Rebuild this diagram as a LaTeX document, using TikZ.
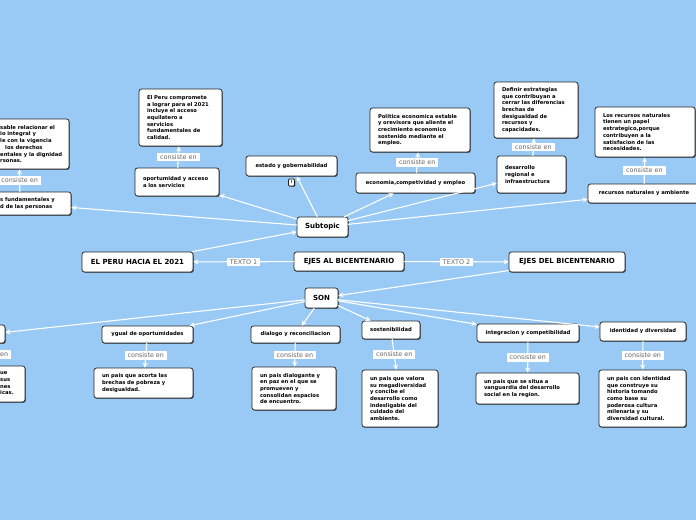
\documentclass[tikz,border=0pt]{standalone}
\usepackage{fontspec}
\setsansfont{DejaVu Sans}
\usetikzlibrary{arrows.meta,shadows}

\begin{document}
\begin{tikzpicture}[x=1pt,y=-1pt,line cap=round,line join=round,
  box/.style={rounded corners=2.5pt,fill=white,draw=black!85,line width=0.75pt,
    drop shadow={shadow xshift=0.8pt,shadow yshift=-0.9pt,opacity=0.55,fill=black}},
  mainbox/.style={box,font=\sffamily\bfseries\fontsize{7}{8}\selectfont,inner sep=0pt},
  topicbox/.style={box,font=\sffamily\bfseries\fontsize{5.25}{6.7}\selectfont,inner sep=0pt},
  detbox/.style={box,font=\sffamily\bfseries\fontsize{5.25}{6.7}\selectfont,align=left,
    inner xsep=8pt,inner ysep=2pt},
  frag/.style={font=\sffamily\bfseries\fontsize{5.25}{6.7}\selectfont,align=left,
    anchor=west,inner sep=0pt},
  notebox/.style={box,font=\sffamily\bfseries\fontsize{4}{4}\selectfont,inner sep=0.6pt,
    minimum width=6pt,minimum height=7pt,rounded corners=1pt},
  conn/.style={white,line width=1.1pt,-{Stealth[length=5pt,width=5pt]}},
  lbl/.style={fill=white,text=black!60,font=\sffamily\fontsize{6.4}{7}\selectfont,
    inner xsep=3pt,inner ysep=1.6pt}]
  \definecolor{sky}{RGB}{153,201,245}

  \useasboundingbox (0,0) rectangle (696,520);
  \fill[sky] (0,0) rectangle (696,520);
  \clip (0,0) rectangle (696,520);

  % ---- central row ----
  \node[mainbox,minimum width=51pt,minimum height=20pt] (sub) at (322.5,227) {Subtopic};
  \node[mainbox,minimum width=110pt,minimum height=19pt] (ejesal) at (349,261.5) {EJES AL BICENTENARIO};
  \node[mainbox,minimum width=111pt,minimum height=20pt] (peru) at (137.5,262) {EL PERU HACIA EL 2021};
  \node[mainbox,minimum width=116pt,minimum height=20pt] (ejesdel) at (567,262) {EJES DEL BICENTENARIO};
  \node[mainbox,minimum width=33pt,minimum height=20pt] (son) at (321.5,298) {SON};

  % ---- upper topics ----
  \node[box,minimum width=102pt,minimum height=23pt] (derechos) at (20,203.5) {};
  \node[frag] (derechost) at (0,203.5) {s fundamentales y\\d de las personas};
  \node[detbox,text width=68pt,minimum height=28pt] (oport) at (177,182)
    {oportumidad y acceso\\a los servicios};
  \node[topicbox,minimum width=91pt,minimum height=20pt] (estado) at (291.5,166) {estado y gobernabilidad};
  \node[notebox] (alerta) at (291.5,182.5) {!};
  \node[topicbox,minimum width=119pt,minimum height=20pt] (econ) at (415.5,183)
    {economia,competividad y empleo};
  \node[detbox,text width=53pt,minimum height=37pt] (desarr) at (531.5,174.5)
    {desarrollo\\regional e\\infraestructura};
  \node[topicbox,minimum width=112pt,minimum height=19pt] (recur) at (644,193.5)
    {recursos naturales y ambiente};

  % ---- upper details ----
  \node[box,minimum width=100pt,minimum height=50pt] (derechosd) at (19,144) {};
  \node[frag] (derechosdt) at (0,144) {sable relacionar el\\io integral y\\le con la vigencia\\
    \hspace*{5pt}los derechos\\entales y la dignidad\\rsonas.};
  \node[detbox,text width=67pt,minimum height=57pt] (elperu) at (180.5,117.5)
    {El Peru compromete\\a lograr para el 2021\\incluye el acceso\\equilatero a\\servicios\\fundamentales de\\calidad.};
  \node[detbox,text width=84pt,minimum height=44pt] (polit) at (420,130)
    {Politica economica estable\\y orevisora que aliente el\\crecimiento economico\\sostenido mediante el\\empleo.};
  \node[detbox,text width=68pt,minimum height=56pt] (defin) at (536,110)
    {Definir estrategias\\que contribuyan a\\cerrar las diferencias\\brechas de\\desigualdad de\\recursos y\\capacidades.};
  \node[detbox,text width=84pt,minimum height=50pt] (losrec) at (645,132)
    {Los recursos naturales\\tienen un papel\\estrategico,porque\\contribuyen a la\\satisfacion de las\\necesidades.};

  % ---- lower topics ----
  \node[box,minimum width=30pt,minimum height=18pt] (ciud) at (-10,334) {};
  \node[topicbox,minimum width=91pt,minimum height=17pt] (ygual) at (147.5,334.5) {ygual de oportumidades};
  \node[topicbox,minimum width=89pt,minimum height=17pt] (dialogo) at (295.5,334.5) {dialogo y reconciliacion};
  \node[topicbox,minimum width=58pt,minimum height=18pt] (sosten) at (391,330) {sostenibilidad};
  \node[topicbox,minimum width=102pt,minimum height=18pt] (integ) at (528,333) {integracion y competibilidad};
  \node[topicbox,minimum width=86pt,minimum height=19pt] (ident) at (643,331.5) {identidad y diversidad};

  % ---- lower details ----
  \node[box,minimum width=70pt,minimum height=36pt] (ciudd) at (-10,384) {};
  \node[frag] (ciuddt) at (0,383.5) {ue\\sus\\nes\\icas.};
  \node[detbox,text width=83pt,minimum height=30pt] (acorta) at (143.5,383)
    {un pais que acorta las\\brechas de pobreza y\\desigualdad.};
  \node[detbox,text width=68pt,minimum height=43pt] (dialogd) at (294,388.5)
    {un pais dialogante y\\en paz en el que se\\promueven y\\consolidan espacios\\de encuentro.};
  \node[detbox,text width=60pt,minimum height=57pt] (valora) at (400,398.5)
    {un pais que valora\\su megadiversidad\\y concibe el\\desarrollo como\\indesligable del\\cuidado del\\ambiente.};
  \node[detbox,text width=87pt,minimum height=31pt] (situa) at (527.5,388.5)
    {un pais que se situa a\\vanguardia del desarrollo\\social en la region.};
  \node[detbox,text width=71pt,minimum height=57pt] (conident) at (642.5,398.5)
    {un pais con identidad\\que construye su\\historia tomando\\como base su\\poderosa cultura\\milenaria y su\\diversidad cultural.};

  % ---- connectors ----
  \draw[conn] (ejesal) -- node[lbl] {TEXTO 1} (peru);
  \draw[conn] (ejesal) -- node[lbl] {TEXTO 2} (ejesdel);
  \draw[conn] (peru) -- (sub);
  \draw[conn] (ejesdel) -- (son);
  \foreach \t in {derechos,oport,estado,econ,desarr,recur}
    \draw[conn] (sub) -- (\t);
  \foreach \t in {ciud,ygual,dialogo,sosten,integ,ident}
    \draw[conn] (son) -- (\t);
  \foreach \a/\b in {derechos/derechosd,oport/elperu,econ/polit,desarr/defin,recur/losrec,
      ciud/ciudd,ygual/acorta,dialogo/dialogd,sosten/valora,integ/situa,ident/conident}
    \draw[conn] (\a) -- node[lbl] {consiste en} (\b);
\end{tikzpicture}
\end{document}
